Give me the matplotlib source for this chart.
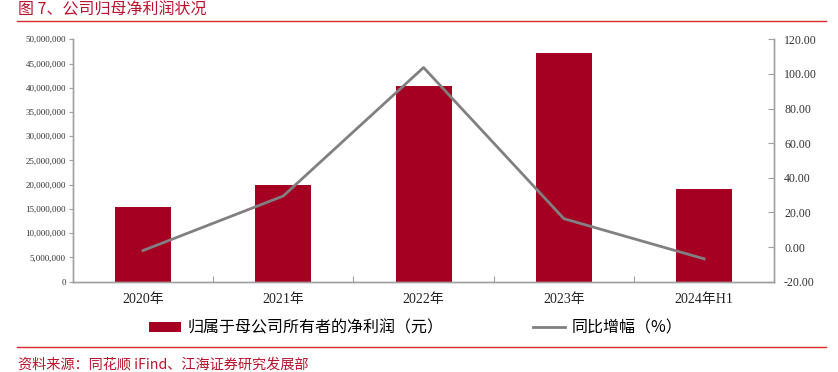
import matplotlib.pyplot as plt
import matplotlib.ticker as mticker
import numpy as np

# data
years = ['2020年', '2021年', '2022年', '2023年', '2024年H1']
net_profit = [15350000, 19900000, 40400000, 47100000, 19060000]
yoy_growth = [-2.0, 29.5, 103.7, 16.4, -6.8]

bar_color = '#A50021'
line_color = '#808080'
red_text = '#B8142E'
spine_color = '#A0A0A0'

plt.rcParams['font.family'] = ['Liberation Serif', 'Noto Sans CJK SC']

fig = plt.figure(figsize=(8.38, 3.72), dpi=100)
ax = fig.add_axes([0.0869, 0.2427, 0.924 - 0.0869, 0.8944 - 0.2427])
ax2 = ax.twinx()

x = np.arange(len(years))
ax.bar(x, net_profit, width=0.4, color=bar_color, label='归属于母公司所有者的净利润（元）', zorder=2)
ax2.plot(x, yoy_growth, color=line_color, lw=2, label='同比增幅（%）', zorder=3)

ax.set_xlim(-0.5, len(years) - 0.5)
ax.set_ylim(0, 50000000)
ax.yaxis.set_major_locator(mticker.MultipleLocator(5000000))
ax.yaxis.set_major_formatter(mticker.FuncFormatter(lambda v, p: f'{int(v):,}'))
ax2.set_ylim(-20, 120)
ax2.yaxis.set_major_locator(mticker.MultipleLocator(20))
ax2.yaxis.set_major_formatter(mticker.FormatStrFormatter('%.2f'))

# boundary ticks without labels, labels at category centres
ax.set_xticks(np.arange(0.5, len(years) - 1, 1.0))
ax.set_xticklabels([])
ax.set_xticks(x, minor=True)
ax.set_xticklabels(years, minor=True, fontsize=10, color='#222222')
ax.tick_params(axis='x', which='major', direction='in', length=4, color=spine_color)
ax.tick_params(axis='x', which='minor', length=0, pad=8)

ax.tick_params(axis='y', direction='out', length=3, width=0.8, color=spine_color,
               labelsize=6.5, labelcolor='#333333', pad=2)
ax2.tick_params(axis='y', direction='in', length=4, width=0.8, color=spine_color,
                labelsize=8.6, labelcolor='#333333', pad=7)

for a in (ax, ax2):
    a.spines['top'].set_visible(False)
    for s in ('left', 'right', 'bottom'):
        a.spines[s].set_color(spine_color)
        a.spines[s].set_linewidth(1.0)

h1, l1 = ax.get_legend_handles_labels()
h2, l2 = ax2.get_legend_handles_labels()
fig.legend(h1 + h2, l1 + l2, loc='center', bbox_to_anchor=(0.496, 0.118), ncol=2,
           frameon=False, handlelength=2.0, handleheight=0.63,
           columnspacing=5.55, handletextpad=0.45,
           prop={'family': ['Noto Sans CJK SC', 'DejaVu Sans'], 'size': 11.5})

# title, rules and source note
fig.text(0.022, 0.997, '图 7、公司归母净利润状况', color=red_text, fontsize=11.5,
         va='top', ha='left', family=['Noto Sans CJK SC', 'DejaVu Sans'])
fig.add_artist(plt.Line2D([0.02, 0.986], [1 - 20.5 / 372] * 2, color='#D42A30', lw=1.0))
fig.add_artist(plt.Line2D([0.02, 0.986], [1 - 346.7 / 372] * 2, color='#D42A30', lw=1.0))
fig.text(0.021, 1 - 364.5 / 372, '资料来源：同花顺 iFind、江海证券研究发展部', color=red_text,
         fontsize=10.2, va='center', ha='left', family=['Noto Sans CJK SC', 'DejaVu Sans'])

fig.savefig('out.png', dpi=100)
